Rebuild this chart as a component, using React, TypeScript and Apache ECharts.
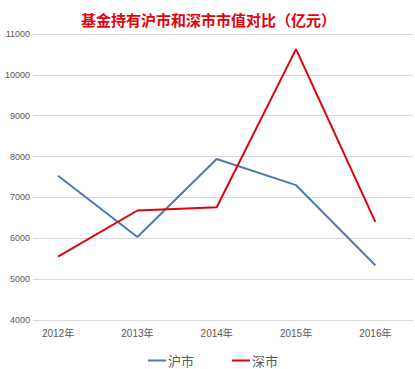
import React, { useEffect, useRef } from "react";
import * as echarts from "echarts";

const categories = ["2012年", "2013年", "2014年", "2015年", "2016年"];
const shSeries = [7530, 6030, 7940, 7300, 5340];
const szSeries = [5550, 6680, 6760, 10630, 6400];
const seriesNames = ["沪市", "深市"];
const yMin = 4000;
const yMax = 11000;
const yStep = 1000;

export default function App() {
  const ref = useRef<HTMLDivElement>(null);
  useEffect(() => {
    document.body.style.margin = "0";
    const chart = echarts.init(ref.current!, null, { renderer: "svg" });
    const font = "'Liberation Sans', 'Noto Sans CJK SC', sans-serif";
    chart.setOption({
      animation: false,
      backgroundColor: "#ffffff",
      title: {
        text: "基金持有沪市和深市市值对比（亿元）",
        left: 76,
        top: 7,
        textStyle: {
          color: "#e8000b",
          fontSize: 15,
          fontWeight: "bold",
          fontFamily: "'Noto Sans CJK SC', sans-serif",
        },
      },
      legend: {
        data: seriesNames,
        left: 143,
        top: 349,
        icon: "rect",
        itemWidth: 18,
        itemHeight: 2,
        itemGap: 38,
        textStyle: {
          color: "#595959",
          fontSize: 13,
          padding: [0, 0, 0, -3],
          fontFamily: "'Noto Sans CJK SC', sans-serif",
        },
      },
      grid: [
        { left: 33, top: 34, width: 380, height: 286 },
        { left: 18.4, top: 34, width: 398.8, height: 286 },
      ],
      xAxis: [
        { type: "value", gridIndex: 0, show: false, min: 0, max: 1 },
        {
          type: "category",
          gridIndex: 1,
          data: categories,
          boundaryGap: true,
          axisLine: { show: false },
          axisTick: { show: false },
          splitLine: { show: false },
          axisLabel: {
            color: "#595959",
            fontSize: 10,
            margin: 8,
            fontFamily: font,
          },
        },
      ],
      yAxis: [
        {
          type: "value",
          gridIndex: 0,
          min: yMin,
          max: yMax,
          interval: yStep,
          axisLine: { show: false },
          axisTick: { show: false },
          splitLine: { lineStyle: { color: "#d9d9d9", width: 1 } },
          axisLabel: {
            color: "#595959",
            fontSize: 9,
            margin: 3,
            fontFamily: font,
            formatter: (v: number) => String(v),
          },
        },
        {
          type: "value",
          gridIndex: 1,
          min: yMin,
          max: yMax,
          interval: yStep,
          show: false,
          splitLine: { show: false },
        },
      ],
      series: [
        {
          name: seriesNames[0],
          type: "line",
          xAxisIndex: 1,
          yAxisIndex: 1,
          data: shSeries,
          symbol: "none",
          lineStyle: { color: "#4a7ab4", width: 2 },
          itemStyle: { color: "#4a7ab4" },
        },
        {
          name: seriesNames[1],
          type: "line",
          xAxisIndex: 1,
          yAxisIndex: 1,
          data: szSeries,
          symbol: "none",
          lineStyle: { color: "#e3000f", width: 2 },
          itemStyle: { color: "#e3000f" },
        },
      ],
    });
    return () => chart.dispose();
  }, []);
  return <div ref={ref} style={{ width: 415, height: 369 }} />;
}
